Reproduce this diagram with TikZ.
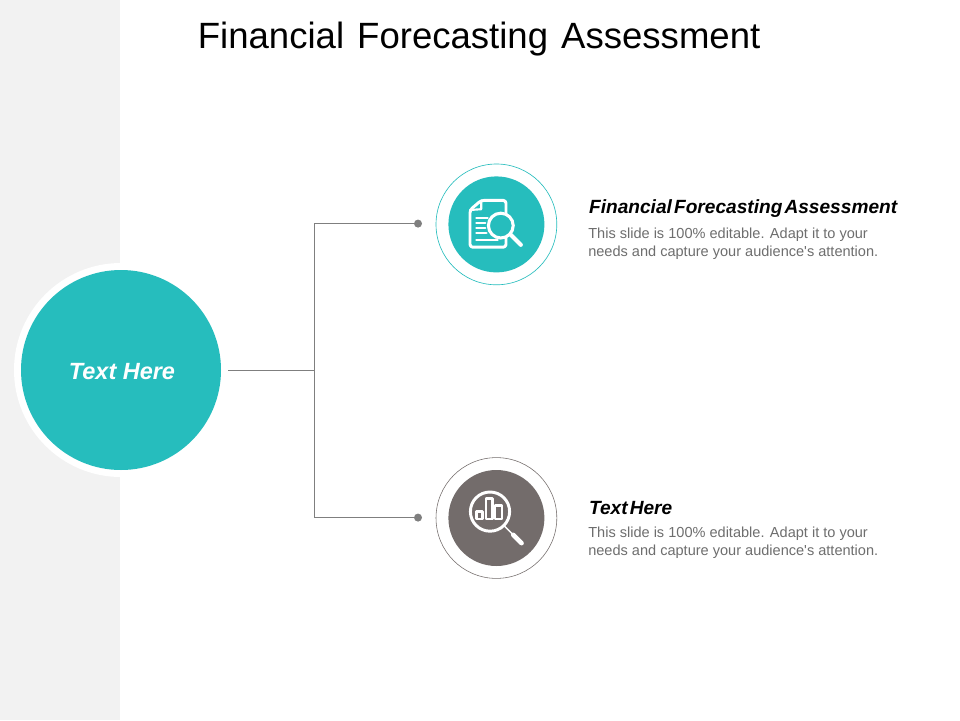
\documentclass[tikz,border=0pt]{standalone}
\usepackage{fontspec}
\setmainfont{Liberation Sans}
\definecolor{tealfill}{HTML}{26BDBD}
\definecolor{greyfill}{HTML}{736C6B}
\definecolor{bandgrey}{HTML}{F2F2F2}
\definecolor{wiregrey}{HTML}{7F7F7F}
\definecolor{bodygrey}{HTML}{6E6E6E}
\def\titlefont{\fontsize{26}{30}\selectfont\spaceskip 9.3pt\relax}
\def\headfont{\fontsize{13.6}{15}\selectfont\bfseries\itshape\spaceskip 1.5pt\relax}
\tikzset{
	disc/.style={circle, inner sep=0, outer sep=0, minimum size=#1},
	dotend/.style={circle, fill=wiregrey, inner sep=0, outer sep=0, minimum size=0.2cm},
	wire/.style={line width=0.5pt, color=wiregrey},
	headtext/.style={anchor=west, inner sep=0, font=\headfont},
	bodytext/.style={anchor=north west, inner sep=0, align=left, color=bodygrey, font=\fontsize{10.35}{12.8}\selectfont},
	glyph/.style={line width=2.1pt, color=white, line cap=round, line join=round}
}

\begin{document}
\begin{tikzpicture}
		%%%%% START %%%%%
		
		\useasboundingbox (0, 0) rectangle (24, 18);
		\fill[white] (0, 0) rectangle (24, 18);
		\fill[bandgrey] (0, 0) rectangle (3, 18);
		
		\node[anchor=base west, inner sep=0, font=\titlefont] (title) at (4.94, 16.79) {Financial Forecasting Assessment};
		
		\node[disc=5.35cm, fill=white] (hubring) at (3.025, 8.75) {};
		\node[disc=5cm, fill=tealfill] (hub) at (3.025, 8.75) {};
		\node[text=white, font=\fontsize{16.7}{20}\selectfont\bfseries\itshape] (hublabel) at (3.05, 8.71) {Text Here};
		
		\coordinate (fork) at (7.85, 8.75);
		\node[dotend] (topdot) at (10.45, 12.41) {};
		\node[dotend] (lowdot) at (10.45, 5.06) {};
		\draw[wire] (hubring) -- (fork);
		\draw[wire] (fork) |- (topdot);
		\draw[wire] (fork) |- (lowdot);
		
		\node[disc=3.02cm, draw=tealfill, line width=0.45pt] (topring) at (12.41, 12.39) {};
		\node[disc=2.4cm, fill=tealfill] (topdisc) at (12.41, 12.39) {};
		\node[disc=3.02cm, draw=greyfill, line width=0.4pt] (lowring) at (12.41, 5.05) {};
		\node[disc=2.4cm, fill=greyfill] (lowdisc) at (12.41, 5.05) {};
		
		% document and lens
		\begin{scope}[shift={(topdisc.center)}]
			\draw[glyph, rounded corners=2pt] (-0.38, 0.6) -- (0.24, 0.6) -- (0.24, -0.57) -- (-0.66, -0.57) -- (-0.66, 0.36) -- cycle;
			\draw[glyph, line width=1.5pt] (-0.38, 0.6) -- (-0.38, 0.38) -- (-0.66, 0.36);
			\draw[glyph, line width=1.8pt] (-0.5, 0.155) -- (-0.22, 0.155);
			\draw[glyph, line width=1.8pt] (-0.5, 0.03) -- (-0.28, 0.03);
			\draw[glyph, line width=1.8pt] (-0.5, -0.095) -- (-0.28, -0.095);
			\draw[glyph, line width=1.8pt] (-0.5, -0.22) -- (-0.25, -0.22);
			\draw[glyph, line width=1.8pt] (-0.5, -0.39) -- (0.03, -0.39);
			\draw[color=white, line width=2.2pt, fill=tealfill] (0.11, -0.03) circle (0.31);
			\draw[glyph, line width=3pt] (0.36, -0.26) -- (0.61, -0.51);
		\end{scope}
		
		% bars under lens
		\begin{scope}[shift={(lowdisc.center)}]
			\draw[glyph, line width=2.1pt] (-0.16, 0.16) circle (0.49);
			\draw[glyph, line width=1.1pt] (0.2, -0.2) -- (0.4, -0.4);
			\draw[glyph, line width=3.2pt] (0.42, -0.42) -- (0.63, -0.63);
			\draw[glyph, line width=1.6pt] (-0.495, -0.025) rectangle (-0.345, 0.16);
			\draw[glyph, line width=1.6pt] (-0.26, -0.025) rectangle (-0.095, 0.49);
			\draw[glyph, line width=1.6pt] (-0.03, -0.025) rectangle (0.14, 0.31);
		\end{scope}
		
		\node[headtext] (tophead) at (14.72, 12.78) {Financial Forecasting Assessment};
		\node[bodytext] (topbody) at (14.7, 12.32) {This slide is 100\% editable. Adapt it to your\\needs and capture your audience\textquotesingle s attention.};
		
		\node[headtext] (lowhead) at (14.72, 5.31) {Text Here};
		\node[bodytext] (lowbody) at (14.7, 4.84) {This slide is 100\% editable. Adapt it to your\\needs and capture your audience\textquotesingle s attention.};
		
		%%%%% END %%%%%
	\end{tikzpicture}
\end{document}
